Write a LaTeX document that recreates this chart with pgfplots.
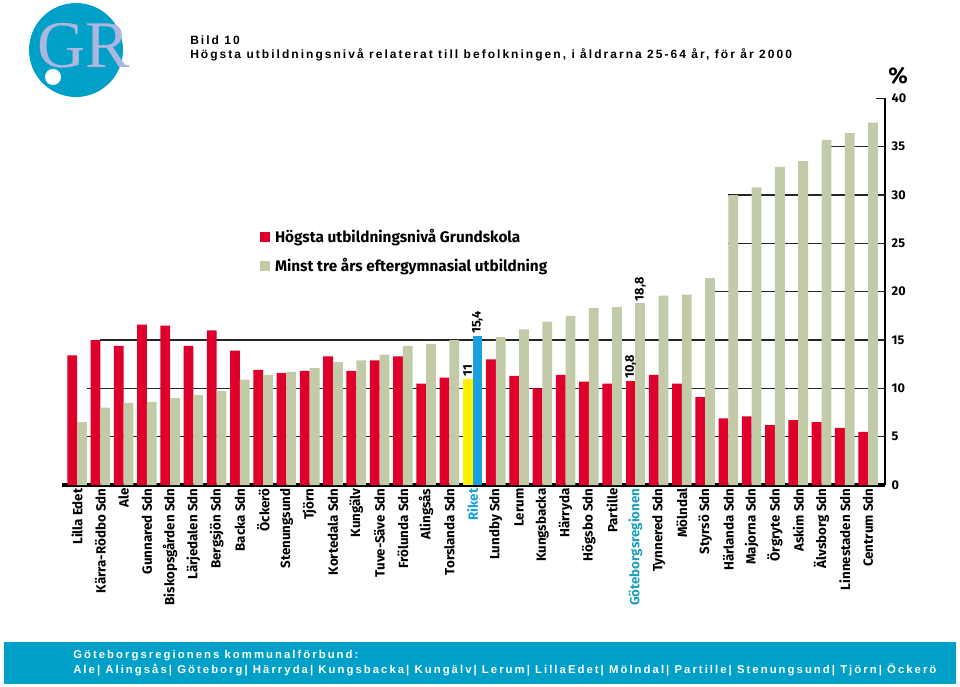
\documentclass[border=0pt]{standalone}
\usepackage{fontspec}
\usepackage{pgfplots}
\pgfplotsset{compat=1.18}
\setmainfont{Fira Sans}
\newfontfamily\helv[LetterSpace=17]{Liberation Sans}
\newfontfamily\footfont[LetterSpace=18]{Liberation Sans}
\newfontfamily\grfont{Liberation Serif}
\definecolor{barred}{RGB}{222,0,42}
\definecolor{bargreen}{RGB}{194,203,168}
\definecolor{rikyellow}{RGB}{255,242,0}
\definecolor{rikblue}{RGB}{24,160,225}
\definecolor{grblue}{RGB}{0,160,200}
\definecolor{lav}{RGB}{172,182,222}
\definecolor{gteal}{RGB}{30,160,185}

\pgfplotstableread{
x y
0 13.4
1 15.0
2 14.4
3 16.6
4 16.5
5 14.4
6 16.0
7 13.9
8 11.9
9 11.6
10 11.8
11 13.3
12 11.8
13 12.9
14 13.3
15 10.5
16 11.1
18 13.0
19 11.3
20 10.0
21 11.4
22 10.7
23 10.5
25 11.4
26 10.5
27 9.1
28 6.9
29 7.1
30 6.2
31 6.7
32 6.5
33 5.9
34 5.5
}\redtab

\pgfplotstableread{
x y
0 6.5
1 8.0
2 8.5
3 8.6
4 9.0
5 9.3
6 9.7
7 10.9
8 11.4
9 11.7
10 12.1
11 12.7
12 12.9
13 13.5
14 14.4
15 14.6
16 15.0
18 15.3
19 16.1
20 16.9
21 17.5
22 18.3
23 18.4
25 19.6
26 19.7
27 21.4
28 30.0
29 30.8
30 32.9
31 33.5
32 35.7
33 36.4
34 37.5
}\greentab

\begin{document}
\begin{tikzpicture}
\path[use as bounding box] (0,0) rectangle (720pt,514.5pt);
% logo
\fill[grblue] (57pt,477pt) circle (35.25pt);
\node[lav, font=\grfont\fontsize{50}{50}\selectfont, inner sep=0] at (63pt,480pt) {GR};
\fill[white] (39.75pt,456.75pt) circle (6pt);
% title
\node[anchor=base west, inner sep=0, font=\helv\bfseries\fontsize{9}{9}\selectfont] at (142.5pt,481.3pt) {Bild 10};
\node[anchor=base west, inner sep=0, font=\helv\bfseries\fontsize{9}{9}\selectfont] at (142.5pt,470.25pt) {Högsta utbildningsnivå relaterat till befolkningen, i åldrarna 25-64 år, för år 2000};
% percent sign
\node[font=\bfseries\fontsize{17}{17}\selectfont, inner sep=0] at (673.5pt,457.5pt) {\%};
% footer band
\fill[grblue] (3pt,1.5pt) rectangle (717pt,33pt);
\node[anchor=base west, inner sep=0, white, font=\footfont\bfseries\fontsize{8.5}{9}\selectfont] at (54.75pt,21pt) {Göteborgsregionens kommunalförbund:};
\node[anchor=base west, inner sep=0, white, font=\footfont\bfseries\fontsize{8.5}{9}\selectfont] at (54.75pt,9.75pt) {Ale| Alingsås| Göteborg| Härryda| Kungsbacka| Kungälv| Lerum| LillaEdet| Mölndal| Partille| Stenungsund| Tjörn| Öckerö};

\begin{axis}[
  at={(46.5pt,150.75pt)}, anchor=south west,
  scale only axis, width=617.25pt, height=290pt,
  xmin=-0.65, xmax=34.73, ymin=0, ymax=40,
  axis x line*=bottom, axis y line*=right,
  x axis line style={line width=2.6pt, -},
  y axis line style={line width=2pt, -},
  ytick={0,5,...,40},
  xtick={0,...,34},
  xticklabels={Lilla Edet, Kärra-Rödbo Sdn, Ale, Gunnared Sdn, Biskopsgården Sdn, Lärjedalen Sdn, Bergsjön Sdn, Backa Sdn, Öckerö, Stenungsund, Tjörn, Kortedala Sdn, Kungälv, Tuve-Säve Sdn, Frölunda Sdn, Alingsås, Torslanda Sdn, {\color{rikblue}Riket}, Lundby Sdn, Lerum, Kungsbacka, Härryda, Högsbo Sdn, Partille, {\color{gteal}Göteborgsregionen}, Tynnered Sdn, Mölndal, Styrsö Sdn, Härlanda Sdn, Majorna Sdn, Örgryte Sdn, Askim Sdn, Älvsborg Sdn, Linnestaden Sdn, Centrum Sdn},
  major tick length=0pt,
  /pgf/number format/assume math mode=true,
  yticklabel style={font=\bfseries\fontsize{9.5}{10}\selectfont, xshift=1.5pt},
  xticklabel style={rotate=90, anchor=east, font=\bfseries\fontsize{10}{11}\selectfont, inner sep=2.5pt},
  clip=false,
  legend image code/.code={\fill[#1] (0pt,-3.75pt) rectangle (7.5pt,3.75pt);},
  legend style={at={(0.235,0.675)}, anchor=north west, draw=none, fill=none,
    font=\bfseries\fontsize{11.5}{12}\selectfont, row sep=6pt,
    nodes={inner xsep=4pt}},
  legend cell align=left,
]
% gridlines
\addplot[black!85, line width=1pt, forget plot] coordinates {(0.42,5) (34.73,5)};
\addplot[black!85, line width=1pt, forget plot] coordinates {(0.42,10) (34.73,10)};
\addplot[black!85, line width=1pt, forget plot] coordinates {(1.0,15) (34.73,15)};
\addplot[black!85, line width=1pt, forget plot] coordinates {(27.0,20) (34.73,20)};
\addplot[black!85, line width=1pt, forget plot] coordinates {(28.0,25) (34.73,25)};
\addplot[black!85, line width=1pt, forget plot] coordinates {(28.0,30) (34.73,30)};
\addplot[black!85, line width=1pt, forget plot] coordinates {(32.0,35) (34.73,35)};
\addplot[black!85, line width=1pt, forget plot] coordinates {(34.35,40) (34.73,40)};
% bars
\addplot[ybar, bar width=0.42, bar shift=-0.21, fill=barred, draw=none, forget plot] table[x=x,y=y] {\redtab};
\addplot[ybar, bar width=0.42, bar shift=0.21, fill=bargreen, draw=none, forget plot] table[x=x,y=y] {\greentab};
% Riket
\addplot[ybar, bar width=0.42, bar shift=0, fill=rikyellow, draw=none, forget plot,
  nodes near coords={11}, nodes near coords style={rotate=90, anchor=west, inner sep=1.5pt, font=\bfseries\fontsize{9.5}{10}\selectfont}] coordinates {(16.79,11)};
\addplot[ybar, bar width=0.42, bar shift=0, fill=rikblue, draw=none, forget plot,
  nodes near coords={15,4}, nodes near coords style={rotate=90, anchor=west, inner sep=1.5pt, font=\bfseries\fontsize{9.5}{10}\selectfont}] coordinates {(17.21,15.4)};
% Goteborgsregionen
\addplot[ybar, bar width=0.42, bar shift=0, fill=barred, draw=none, forget plot,
  nodes near coords={10,8}, nodes near coords style={rotate=90, anchor=west, inner sep=1.5pt, font=\bfseries\fontsize{9.5}{10}\selectfont}] coordinates {(23.79,10.8)};
\addplot[ybar, bar width=0.42, bar shift=0, fill=bargreen, draw=none, forget plot,
  nodes near coords={18,8}, nodes near coords style={rotate=90, anchor=west, inner sep=1.5pt, font=\bfseries\fontsize{9.5}{10}\selectfont}] coordinates {(24.21,18.8)};
\addlegendimage{fill=barred, draw=none}
\addlegendentry{Högsta utbildningsnivå Grundskola}
\addlegendimage{fill=bargreen, draw=none}
\addlegendentry{Minst tre års eftergymnasial utbildning}
\end{axis}
\end{tikzpicture}
\end{document}
